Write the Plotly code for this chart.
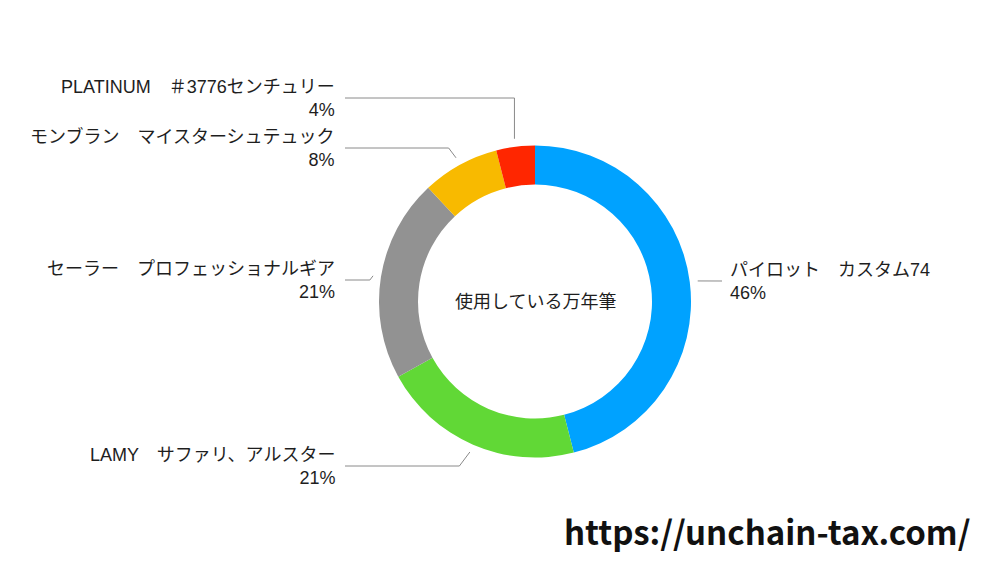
import math
import plotly.graph_objects as go

# data
labels = ["パイロット　カスタム74", "LAMY　サファリ、アルスター",
          "セーラー　プロフェッショナルギア", "モンブラン　マイスターシュテュック",
          "PLATINUM　＃3776センチュリー"]
shares = [46, 21, 21, 8, 4]
colors = ["#00A2FF", "#61D836", "#929292", "#F8BA00", "#FF2600"]
center_title = "使用している万年筆"
site_url = "https://unchain-tax.com/"

# layout (pixels on a 1000x563 page)
W, H = 1000, 563
cx, cy, r_out = 535, 301.5, 156
label_y = [281, 466, 280, 148, 98]   # y of each leader's horizontal run
FONT = "Liberation Sans, Noto Sans CJK JP"
TXT = "#1e1e1e"
LINE = "#8a8a8a"

fig = go.Figure()

fig.add_trace(go.Pie(
    labels=labels, values=shares, sort=False, direction="clockwise", rotation=0,
    hole=0.75, marker=dict(colors=colors, line=dict(width=0)),
    textinfo="none", hoverinfo="skip", showlegend=False,
    domain=dict(x=[(cx - r_out) / W, (cx + r_out) / W],
                y=[(H - cy - r_out) / H, (H - cy + r_out) / H]),
))

annotations = []
total = sum(shares)
cum = 0
for name, v, ly in zip(labels, shares, label_y):
    mid = (cum + v / 2) / total * 2 * math.pi
    cum += v
    ex = cx + math.sin(mid) * (r_out + 8)
    ey = cy - math.cos(mid) * (r_out + 8)
    side = 1 if math.sin(mid) > 0 else -1
    dy = abs(ey - ly)
    bx = ex if dy > 25 else ex + side * dy * 0.75
    if side > 0:
        xs, tx, anchor = [ex, bx, 722], 728, "left"
    else:
        xs, tx, anchor = [ex, bx, 345], 337, "right"
    fig.add_trace(go.Scatter(x=xs, y=[ey, ly, ly], mode="lines",
                             line=dict(color=LINE, width=1),
                             hoverinfo="skip", showlegend=False))
    pct = f"{round(v / total * 100)}%"
    annotations.append(dict(x=tx, y=ly, xref="x", yref="y", text=f"{name}<br>{pct}",
                            showarrow=False, xanchor=anchor, yanchor="middle",
                            align=anchor, font=dict(family=FONT, size=18, color=TXT)))

annotations.append(dict(x=cx, y=cy, xref="x", yref="y", text=center_title,
                        showarrow=False, xanchor="center", yanchor="middle",
                        font=dict(family=FONT, size=18, color=TXT)))
annotations.append(dict(x=972, y=531, xref="x", yref="y", text=f"<b>{site_url}</b>",
                        showarrow=False, xanchor="right", yanchor="middle",
                        font=dict(family="Noto Sans CJK JP", size=33, color="#111111")))

fig.update_layout(
    width=W, height=H, margin=dict(l=0, r=0, t=0, b=0),
    paper_bgcolor="white", plot_bgcolor="white",
    xaxis=dict(range=[0, W], visible=False, fixedrange=True, domain=[0, 1]),
    yaxis=dict(range=[H, 0], visible=False, fixedrange=True, domain=[0, 1]),
    annotations=annotations,
)

fig.write_html("out.html", config={"displayModeBar": False},
               post_script="document.body.style.margin='0';")
